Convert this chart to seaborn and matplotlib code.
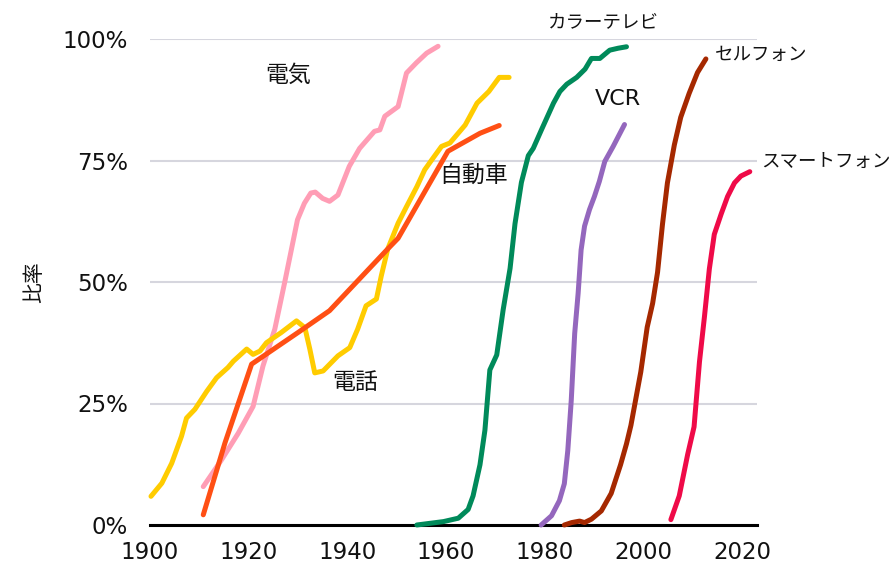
from matplotlib import pyplot as plt
import seaborn as sns
import pandas as pd

# 普及率 (%)
elec_year = [1910.8, 1914.5, 1917.9, 1920.9, 1922.9, 1925.3, 1927.3, 1929.9, 1931.3, 1932.6, 1933.5, 1935.0,
             1936.4, 1938.1, 1940.4, 1942.5, 1945.5, 1946.6, 1947.6, 1950.3, 1952.0, 1954.0, 1956.1, 1958.4]
elec_val = [7.9, 13.4, 18.9, 24.4, 32.7, 40.3, 49.9, 62.8, 66.2, 68.3, 68.5, 67.2,
            66.6, 67.9, 73.8, 77.5, 81.0, 81.3, 84.1, 86.1, 93.0, 95.1, 97.1, 98.5]

tel_year = [1900.2, 1902.4, 1904.4, 1906.4, 1907.4, 1909.1, 1911.5, 1913.5, 1915.8, 1916.9, 1919.6, 1920.9,
            1922.3, 1923.6, 1926.6, 1929.7, 1931.4, 1932.4, 1933.4, 1935.1, 1938.1, 1940.5, 1942.1, 1943.8,
            1945.9, 1946.9, 1948.2, 1950.3, 1952.0, 1954.1, 1955.7, 1957.1, 1959.1, 1960.8, 1963.9, 1966.3,
            1968.7, 1970.8, 1972.8]
tel_val = [5.9, 8.6, 12.7, 18.3, 22.0, 23.8, 27.5, 30.3, 32.4, 33.7, 36.2, 35.1,
           35.8, 37.5, 39.6, 42.0, 40.6, 36.2, 31.3, 31.7, 34.8, 36.5, 40.3, 45.1,
           46.5, 51.3, 56.8, 62.1, 65.5, 69.6, 73.1, 75.1, 77.9, 78.6, 82.3, 86.8,
           89.2, 92.1, 92.1]

car_year = [1910.8, 1915.2, 1920.6, 1930.0, 1936.4, 1948.2, 1950.3, 1960.4, 1966.9, 1970.8]
car_val = [2.1, 16.9, 33.1, 39.6, 44.1, 56.8, 59.0, 76.9, 80.6, 82.2]

tv_year = [1954.1, 1959.5, 1962.5, 1964.5, 1965.5, 1966.9, 1967.9, 1968.9, 1970.3, 1971.6, 1973.0, 1974.0,
           1975.3, 1976.7, 1977.7, 1979.4, 1981.8, 1983.1, 1984.5, 1986.5, 1988.2, 1989.5, 1991.2, 1993.2,
           1994.9, 1996.6]
tv_val = [0.0, 0.7, 1.4, 3.2, 6.0, 12.4, 19.5, 31.9, 35.0, 44.3, 52.8, 62.0,
          70.5, 76.0, 77.5, 81.4, 86.8, 89.2, 90.7, 92.1, 93.8, 96.0, 96.0, 97.7,
          98.1, 98.4]

vcr_year = [1979.3, 1981.4, 1983.0, 1984.0, 1984.7, 1985.4, 1986.1, 1986.8, 1987.4, 1988.1, 1989.1, 1990.1,
            1991.1, 1992.2, 1993.9, 1996.2]
vcr_val = [0.0, 1.9, 5.0, 8.5, 15.3, 25.6, 39.4, 47.7, 56.6, 61.5, 64.9, 67.6,
           70.7, 74.8, 77.9, 82.4]

cell_year = [1984.0, 1985.5, 1987.1, 1988.1, 1989.5, 1991.5, 1993.5, 1995.4, 1996.6, 1997.5, 1999.5, 2000.8,
             2001.9, 2002.9, 2003.9, 2004.9, 2006.3, 2007.6, 2009.3, 2011.0, 2012.7]
cell_val = [0.0, 0.5, 0.8, 0.5, 1.2, 2.9, 6.5, 12.4, 16.7, 20.5, 31.5, 40.7,
            45.6, 52.0, 61.9, 70.4, 78.2, 83.9, 88.8, 93.1, 95.9]

smart_year = [2005.6, 2007.3, 2009.0, 2010.3, 2011.4, 2012.4, 2013.4, 2014.4, 2015.8, 2017.1, 2018.5, 2019.8, 2021.6]
smart_val = [1.1, 6.0, 14.5, 20.2, 33.6, 42.8, 52.7, 59.8, 64.0, 67.6, 70.4, 71.8, 72.7]

names = ["電気", "電話", "自動車", "カラーテレビ", "VCR", "セルフォン", "スマートフォン"]
colors = ["#ff9db5", "#ffcc00", "#ff4f14", "#008a5a", "#9467bd", "#a52800", "#ef0a48"]

series = [(elec_year, elec_val), (tel_year, tel_val), (car_year, car_val), (tv_year, tv_val),
          (vcr_year, vcr_val), (cell_year, cell_val), (smart_year, smart_val)]
frames = []
for name, (yr, val) in zip(names, series):
    frames.append(pd.DataFrame({"year": yr, "rate": val, "tech": name}))
df = pd.concat(frames, ignore_index=True)

sns.set_style("white")
plt.rcParams['font.family'] = ['DejaVu Sans', 'Noto Sans CJK JP']

fig = plt.figure(figsize=(8.93, 5.65), dpi=100)
ax = fig.add_axes([150 / 893, 1 - 525 / 565, 606.7 / 893, 486 / 565])

sns.lineplot(data=df, x="year", y="rate", hue="tech", palette=dict(zip(names, colors)),
             estimator=None, linewidth=3.6, legend=False, ax=ax)
for line in ax.get_lines():
    line.set_solid_capstyle("round")
    line.set_solid_joinstyle("round")
    line.set_clip_on(False)

ax.set_xlim(1900, 2023)
ax.set_ylim(0, 100)
ax.set_yticks([0, 25, 50, 75, 100])
ax.set_yticklabels(["0%", "25%", "50%", "75%", "100%"])
ax.set_xticks(range(1900, 2021, 20))
ax.set_xticks(range(1910, 2021, 20), minor=True)
ax.grid(axis="y", color="#d6d6de", linewidth=1.5)
ax.set_axisbelow(True)

for s in ["left", "right", "top"]:
    ax.spines[s].set_visible(False)
ax.spines["bottom"].set_color("black")
ax.spines["bottom"].set_linewidth(2.2)
ax.spines["bottom"].set_zorder(1)

ax.tick_params(axis="y", length=0, pad=16, labelsize=16.5, labelcolor="#111111")
ax.tick_params(axis="x", which="both", direction="out", length=5.5, width=2, color="black",
               pad=6, labelsize=16.5, labelcolor="#111111")

ax.set_xlabel("")
ax.set_ylabel("比率", fontsize=15, color="#111111")
ax.yaxis.set_label_coords(-0.175, 0.5)

kanji_kw = dict(fontsize=16.5, color="#111111", va="center")
kana_kw = dict(fontsize=13.3, color="#111111", va="center", clip_on=False)
ax.text(1928.0, 92.6, "電気", ha="center", **kanji_kw)
ax.text(1941.6, 29.4, "電話", ha="center", **kanji_kw)
ax.text(1965.5, 72.0, "自動車", ha="center", **kanji_kw)
ax.text(1994.9, 87.6, "VCR", ha="center", fontsize=16, color="#111111", va="center")
ax.text(1992.0, 103.5, "カラーテレビ", ha="center", **kana_kw)
ax.text(2014.6, 96.8, "セルフォン", ha="left", **kana_kw)
ax.text(2023.9, 74.8, "スマートフォン", ha="left", **kana_kw)

plt.savefig("out.png", dpi=100)
